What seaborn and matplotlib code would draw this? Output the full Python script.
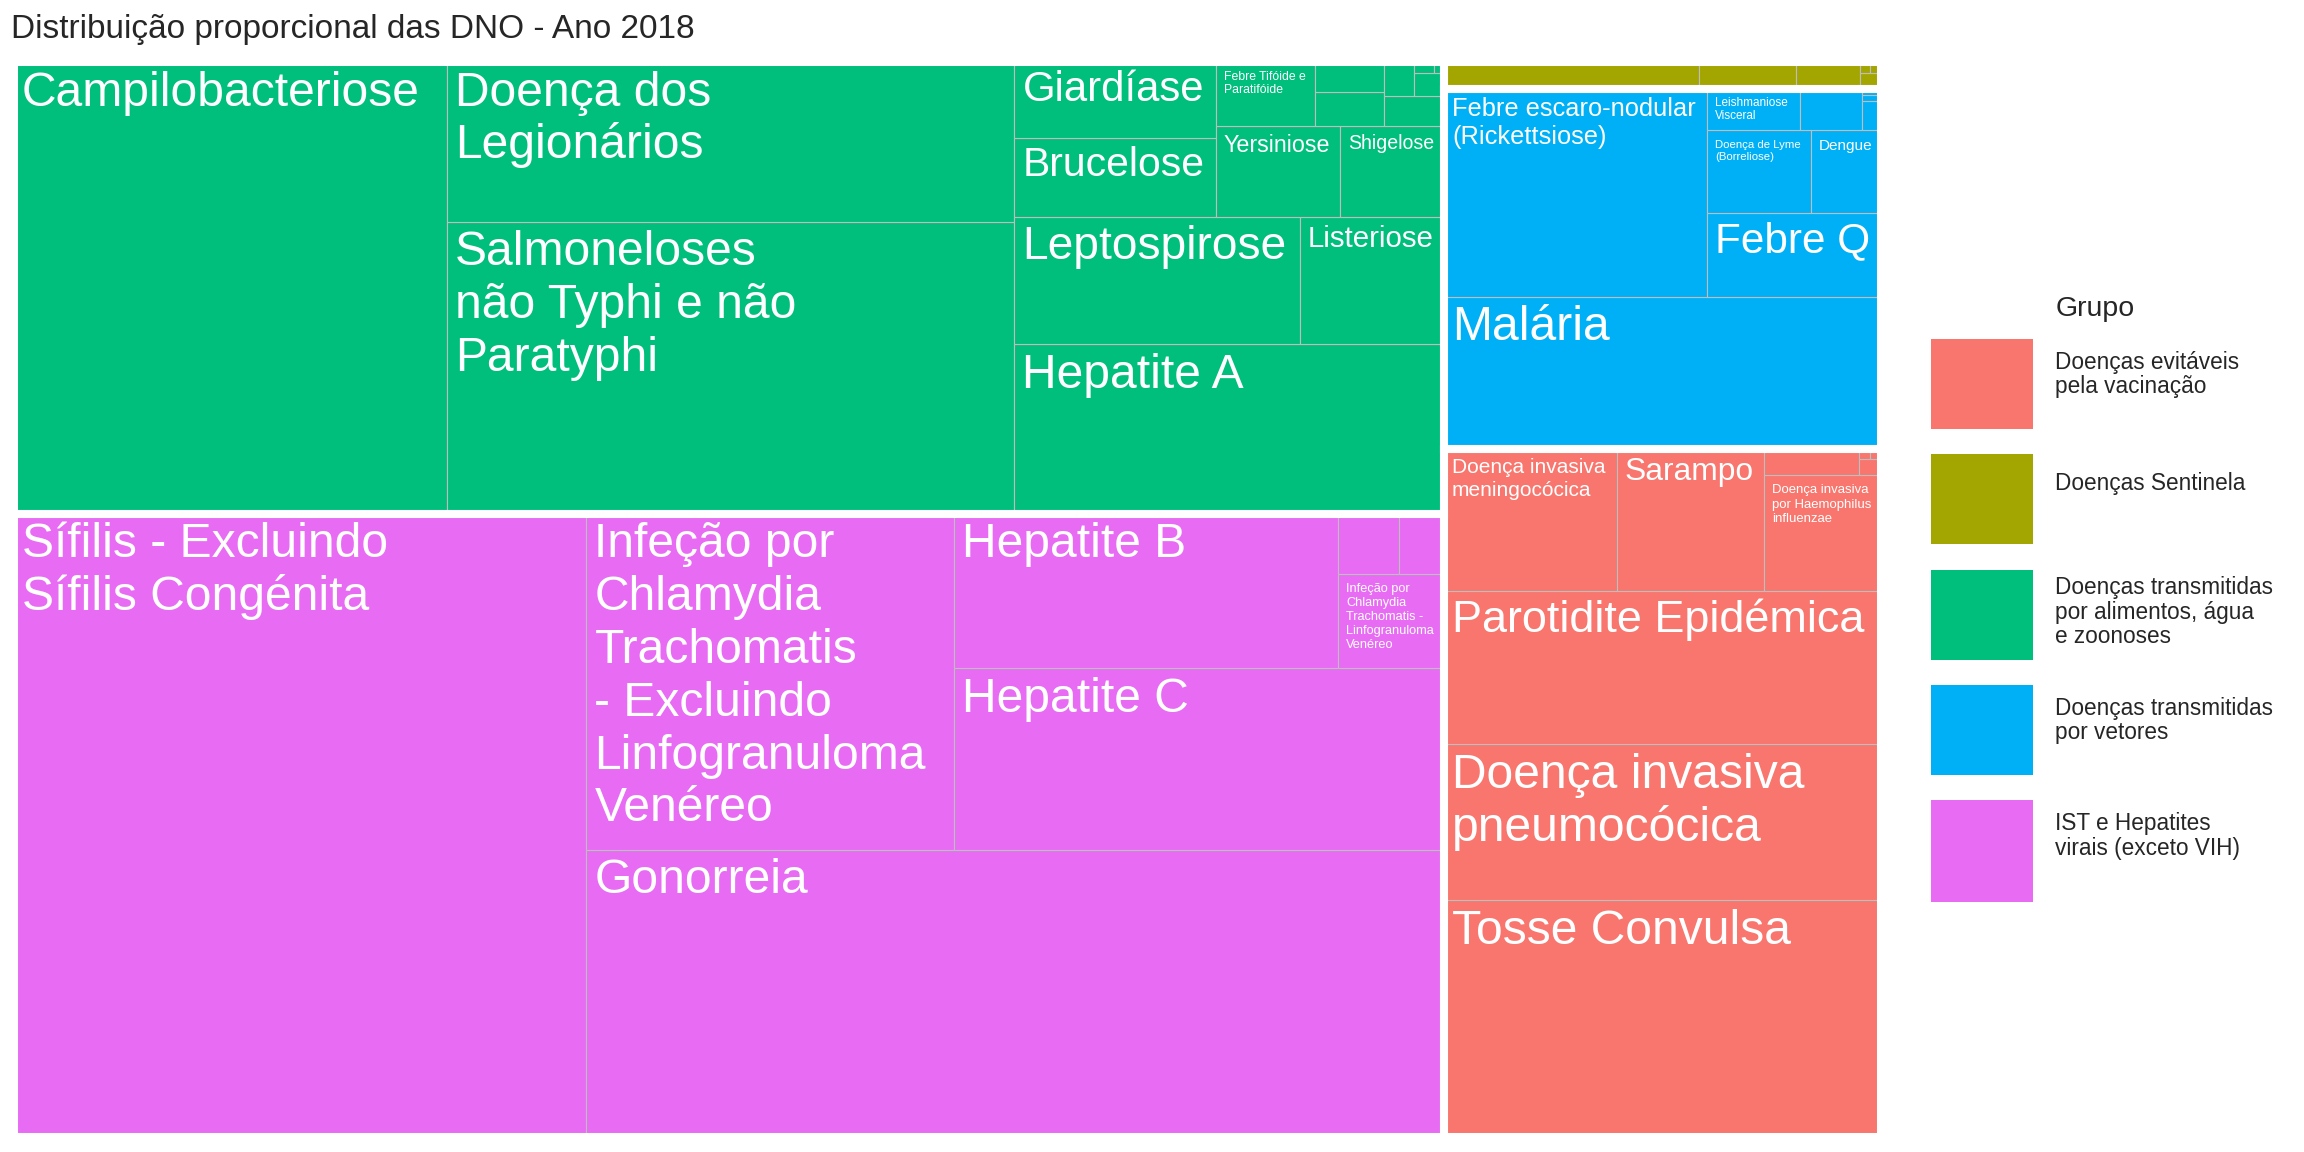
"""
Distribuição proporcional das DNO - Ano 2018
Treemap (squarified) das doenças de notificação obrigatória por grupo
"""

import matplotlib
matplotlib.use("Agg")
import matplotlib.pyplot as plt
from matplotlib.patches import Rectangle
from matplotlib.font_manager import FontProperties
import pandas as pd
import seaborn as sns

# ── Data ──────────────────────────────────────────────────────────────────────
grupos = [
    "Doenças evitáveis\npela vacinação",
    "Doenças Sentinela",
    "Doenças transmitidas\npor alimentos, água\ne zoonoses",
    "Doenças transmitidas\npor vetores",
    "IST e Hepatites\nvirais (exceto VIH)",
]

vacinacao_doencas = ["Tosse Convulsa", "Doença invasiva\npneumocócica",
                     "Parotidite Epidémica", "Doença invasiva\nmeningocócica",
                     "Sarampo", "Doença invasiva\npor Haemophilus\ninfluenzae",
                     "Rubéola", "Tétano", "Difteria", "Rubéola congénita"]
vacinacao_casos = [913, 601, 590, 217, 185, 120, 22, 3, 1, 1]

sentinela_doencas = ["Doença de Creutzfeldt-Jakob e variante da Doença de Creutzfeldt-Jakob",
                     "Síndrome Hemolítica Urémica", "Gripe pandémica",
                     "Raiva", "Peste", "Varíola"]
sentinela_casos = [60, 23, 15, 3, 1, 1]

alimentos_doencas = ["Campilobacteriose", "Salmoneloses\nnão Typhi e não\nParatyphi",
                     "Doença dos\nLegionários", "Hepatite A", "Leptospirose",
                     "Listeriose", "Brucelose", "Giardíase", "Yersiniose",
                     "Shigelose", "Febre Tifóide e\nParatifóide", "Criptosporidiose",
                     "Infeção por E. coli produtora de toxina Shiga",
                     "Equinococose / Hidatidose", "Botulismo", "Triquinelose",
                     "Tularemia", "Carbúnculo"]
alimentos_casos = [1726, 1461, 800, 643, 320, 162, 140, 135, 100, 83, 56,
                   21, 18, 16, 9, 6, 2, 1]

vetores_doencas = ["Malária", "Febre escaro-nodular\n(Rickettsiose)", "Febre Q",
                   "Doença de Lyme\n(Borreliose)", "Dengue", "Leishmaniose\nVisceral",
                   "Infeção por vírus Zika", "Chikungunya", "Febre amarela",
                   "Leishmaniose Cutânea"]
vetores_casos = [585, 483, 129, 75, 51, 34, 23, 5, 1, 1]

ist_doencas = ["Sífilis - Excluindo\nSífilis Congénita", "Gonorreia",
               "Infeção por\nChlamydia\nTrachomatis\n- Excluindo\nLinfogranuloma\nVenéreo",
               "Hepatite C", "Hepatite B",
               "Infeção por\nChlamydia\nTrachomatis -\nLinfogranuloma\nVenéreo",
               "Sífilis Congénita", "Hepatite D"]
ist_casos = [3145, 2171, 1090, 784, 523, 88, 32, 24]

df = pd.concat([
    pd.DataFrame({"grupo": g, "doenca": d, "casos": c})
    for g, d, c in zip(grupos,
                       [vacinacao_doencas, sentinela_doencas, alimentos_doencas,
                        vetores_doencas, ist_doencas],
                       [vacinacao_casos, sentinela_casos, alimentos_casos,
                        vetores_casos, ist_casos])
], ignore_index=True)

# ── Config ────────────────────────────────────────────────────────────────────
sns.set_theme(style="white")
FONT = "Liberation Sans"
plt.rcParams["font.family"] = [FONT, "DejaVu Sans"]

palette = dict(zip(grupos, sns.color_palette(
    ["#F8766D", "#A3A500", "#00BF7D", "#00B0F6", "#E76BF3"])))

W_PX, H_PX, DPI = 2304, 1152, 100
PANEL = (14, 62, 1881, 1137)          # left, top, right, bottom (px)
PAD_X, PAD_Y = 8, 9                   # label padding inside a tile (px)
MAX_EM, MIN_EM = 48.0, 10.5           # label size limits (px per em)
WIDTH_FUDGE = 1.02


# ── Squarified layout (Bruls et al.), origin at the bottom-left ──────────────
def worst(row, side):
    s = sum(row)
    return max(max(side * side * r / (s * s), s * s / (side * side * r)) for r in row)


def squarify(values, x, y, w, h):
    total = sum(values)
    areas = [v * w * h / total for v in values]
    rects, i = [], 0
    while i < len(areas):
        side = min(w, h)
        row, j = [areas[i]], i + 1
        while j < len(areas) and worst(row + [areas[j]], side) <= worst(row, side):
            row.append(areas[j])
            j += 1
        s = sum(row)
        if w >= h:                       # column on the left
            cw, yy = s / h, y
            for a in row:
                rects.append((x, yy, cw, a / cw))
                yy += a / cw
            x, w = x + cw, w - cw
        else:                            # row at the bottom
            rh, xx = s / w, x
            for a in row:
                rects.append((xx, y, a / rh, rh))
                xx += a / rh
            y, h = y + rh, h - rh
        i = j
    return rects


totais = df.groupby("grupo", sort=False)["casos"].sum().sort_values(ascending=False)
grupo_rects = dict(zip(totais.index, squarify(totais.values.tolist(), 0, 0, 1, 1)))

tiles = []
for grupo, (gx, gy, gw, gh) in grupo_rects.items():
    sub = df[df["grupo"] == grupo].sort_values("casos", ascending=False)
    for (doenca, casos), r in zip(sub[["doenca", "casos"]].values,
                                  squarify(sub["casos"].tolist(), gx, gy, gw, gh)):
        tiles.append((grupo, doenca, r))

# ── Figure ────────────────────────────────────────────────────────────────────
fig = plt.figure(figsize=(W_PX / DPI, H_PX / DPI), dpi=DPI)
left, top, right, bottom = PANEL
ax_w, ax_h = right - left, bottom - top
ax = fig.add_axes([left / W_PX, 1 - bottom / H_PX, ax_w / W_PX, ax_h / H_PX])
ax.set_xlim(0, 1)
ax.set_ylim(0, 1)
ax.axis("off")

for grupo, doenca, (x, y, w, h) in tiles:
    ax.add_patch(Rectangle((x, y), w, h, facecolor=palette[grupo],
                           edgecolor="#BEBEBE", linewidth=0.8))

for grupo, (x, y, w, h) in grupo_rects.items():
    ax.add_patch(Rectangle((x, y), w, h, fill=False, edgecolor="white",
                           linewidth=5.8, joinstyle="miter"))

# Labels: shrink to fit the tile, hide when too small
renderer = fig.canvas.get_renderer()
ref_prop = FontProperties(family=FONT, size=72)     # 72 pt = 100 px per em


def em_width(text):
    return renderer.get_text_width_height_descent(text, ref_prop, ismath=False)[0] / 100


for grupo, doenca, (x, y, w, h) in tiles:
    lines = doenca.split("\n")
    w_px, h_px = w * ax_w, h * ax_h
    widest = max(em_width(l) for l in lines)
    em = min(MAX_EM,
             (w_px - 2 * PAD_X) / (WIDTH_FUDGE * widest),
             (h_px - 2 * PAD_Y) / (0.93 + 1.1 * (len(lines) - 1)))
    if em < MIN_EM:
        continue
    for k, line in enumerate(lines):
        yb = y + h - (PAD_Y + 0.72 * em + k * 1.1 * em) / ax_h
        ax.text(x + PAD_X / ax_w, yb, line, fontsize=em * 0.72, color="white",
                family=FONT, ha="left", va="baseline", zorder=5)

# ── Title & legend ────────────────────────────────────────────────────────────
fig.text(11 / W_PX, 1 - 38 / H_PX, "Distribuição proporcional das DNO - Ano 2018",
         fontsize=24, family=FONT, ha="left", va="baseline")

fig.text(2056 / W_PX, 1 - 316 / H_PX, "Grupo", fontsize=20.5, family=FONT,
         ha="left", va="baseline")

key_x, key_w, key_top, key_step = 1931, 102, 339, 115.3
key_heights = [90, 90, 90, 90, 102]
for i, grupo in enumerate(grupos):
    kt = key_top + i * key_step
    fig.add_artist(Rectangle((key_x / W_PX, 1 - (kt + key_heights[i]) / H_PX),
                             key_w / W_PX, key_heights[i] / H_PX,
                             transform=fig.transFigure, facecolor=palette[grupo],
                             edgecolor="none"))
    lines = grupo.split("\n")
    first = kt + 35.6 - 5.6 * (len(lines) - 1)
    for k, line in enumerate(lines):
        fig.text(2055 / W_PX, 1 - (first + k * 24.5) / H_PX, line, fontsize=16.3,
                 family=FONT, ha="left", va="baseline")

fig.savefig("out.png", dpi=DPI)
print("Saved: out.png")
